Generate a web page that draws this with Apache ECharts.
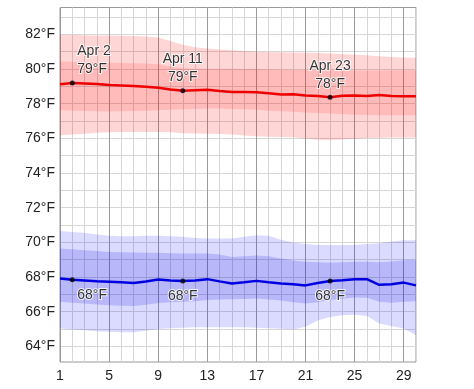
<!DOCTYPE html>
<html><head><meta charset="utf-8">
<script src="https://cdn.jsdelivr.net/npm/echarts@6/dist/echarts.min.js"></script>
<style>html,body{margin:0;padding:0;background:#fff}#c{width:474px;height:389px}</style>
</head><body><div id="c"></div>
<script>
// Days of April
const days = ['1','2','3','4','5','6','7','8','9','10','11','12','13','14','15','16','17','18','19','20','21','22','23','24','25','26','27','28','29','30'];
const xLabelDays = ['1','5','9','13','17','21','25','29'];
const yGridValues = [64,65,66,67,68,69,70,71,72,73,74,75,76,77,78,79,80,81,82,83];
const yLabelValues = [64,66,68,70,72,74,76,78,80,82];

// High temperature (°F)
const highMean = [79.12,79.20,79.17,79.13,79.08,79.05,79.02,78.98,78.92,78.82,78.75,78.78,78.80,78.73,78.68,78.67,78.66,78.60,78.53,78.55,78.48,78.45,78.37,78.46,78.48,78.44,78.50,78.44,78.43,78.43];
const highP90 = [81.98,81.97,81.95,81.94,81.93,81.92,81.90,81.88,81.82,81.62,81.40,81.25,81.18,81.12,81.08,81.04,81.00,80.98,80.97,80.96,80.94,80.92,80.90,80.87,80.83,80.79,80.74,80.70,80.67,80.65];
const highP75 = [80.44,80.42,80.40,80.38,80.37,80.35,80.34,80.32,80.28,80.15,80.05,80.02,80.02,80.02,80.01,80.00,80.00,79.98,79.96,79.95,79.94,79.93,79.93,79.92,79.92,79.92,79.92,79.93,79.93,79.93];
const highP25 = [77.62,77.60,77.58,77.56,77.55,77.56,77.58,77.60,77.62,77.65,77.68,77.70,77.72,77.72,77.70,77.68,77.65,77.60,77.56,77.53,77.50,77.46,77.43,77.40,77.37,77.35,77.34,77.33,77.33,77.33];
const highP10 = [76.18,76.22,76.27,76.32,76.36,76.37,76.37,76.37,76.37,76.35,76.30,76.28,76.27,76.25,76.22,76.17,76.12,76.10,76.08,76.06,76.00,75.92,75.90,75.94,75.98,76.02,76.04,76.05,76.05,76.05];

// Low temperature (°F)
const lowMean = [67.92,67.84,67.80,67.76,67.73,67.70,67.66,67.75,67.86,67.80,67.77,67.80,67.88,67.75,67.63,67.70,67.78,67.70,67.63,67.58,67.52,67.66,67.77,67.82,67.88,67.88,67.55,67.58,67.68,67.52];
const lowP90 = [70.65,70.60,70.55,70.45,70.38,70.36,70.36,70.38,70.38,70.36,70.32,70.25,70.22,70.22,70.22,70.32,70.41,70.38,70.15,70.00,69.90,69.85,69.85,69.85,69.85,69.90,69.95,70.05,70.12,70.13];
const lowP75 = [69.65,69.60,69.55,69.50,69.45,69.43,69.42,69.40,69.40,69.38,69.36,69.36,69.36,69.30,69.16,69.20,69.25,69.20,69.07,68.95,68.88,68.85,68.82,68.85,68.88,68.88,68.85,68.90,68.97,69.00];
const lowP25 = [66.57,66.52,66.47,66.42,66.38,66.35,66.33,66.40,66.50,66.55,66.57,66.60,66.67,66.70,66.72,66.74,66.76,66.70,66.65,66.55,66.48,66.55,66.67,66.75,66.82,66.80,66.57,66.52,66.57,66.60];
const lowP10 = [65.03,64.98,64.93,64.88,64.84,64.82,64.82,64.90,65.00,65.05,65.08,65.10,65.10,65.10,65.10,65.10,65.08,65.05,65.02,64.97,65.13,65.50,65.70,65.80,65.82,65.75,65.32,65.17,65.03,64.65];

// Annotated days
const annotDays = ['2','11','23'];
const annotNames = ['Apr 2','Apr 11','Apr 23'];

const FONT = 'Arial, "Liberation Sans", sans-serif';
const diff = (a, b) => a.map((v, i) => +(v - b[i]).toFixed(3));

function band(stack, lower, upper, color) {
  return [
    { type: 'line', stack: stack, data: lower, symbol: 'none', lineStyle: { width: 0, opacity: 0 }, silent: true, z: 1 },
    { type: 'line', stack: stack, data: diff(upper, lower), symbol: 'none', lineStyle: { width: 0, opacity: 0 }, areaStyle: { color: color, opacity: 1 }, silent: true, z: 1 }
  ];
}

function annot(mean) {
  return annotDays.map((d, i) => {
    const idx = days.indexOf(d);
    const v = mean[idx];
    const item = { value: [idx, v], name: annotNames[i] };
    if (i === 0) item.label = { align: 'left', offset: [5, 0] };
    return item;
  });
}

const labelBase = {
  show: true, fontSize: 14, fontFamily: FONT, color: '#000', lineHeight: 18,
  textBorderColor: '#fff', textBorderWidth: 2
};

const chart = echarts.init(document.getElementById('c'), null, { renderer: 'canvas' });
chart.setOption({
  animation: false,
  backgroundColor: '#fff',
  grid: { left: 60, right: 58, top: 7.5, bottom: 27, show: true, borderColor: '#999', borderWidth: 1, backgroundColor: 'transparent' },
  xAxis: [
    { type: 'category', data: days, boundaryGap: false,
      axisLine: { show: false }, axisTick: { show: false }, axisLabel: { show: false },
      splitLine: { show: true, interval: 0, lineStyle: { color: '#d6d6d6', width: 1 } } },
    { type: 'category', data: days, boundaryGap: false, position: 'bottom',
      axisLine: { show: false }, axisTick: { show: false },
      axisLabel: { interval: (i, v) => xLabelDays.indexOf(v) >= 0, fontSize: 14, fontFamily: FONT, color: '#222', margin: 7 },
      splitLine: { show: true, interval: (i, v) => xLabelDays.indexOf(v) >= 0, lineStyle: { color: '#9a9a9a', width: 1 } } }
  ],
  yAxis: {
    type: 'value', min: 63.1, max: 83.55,
    axisLine: { show: false },
    axisTick: { show: false, customValues: yGridValues },
    axisLabel: { customValues: yLabelValues, formatter: v => v + '°F', fontSize: 14, fontFamily: FONT, color: '#222', margin: 5 },
    splitLine: { show: true, lineStyle: { color: '#d6d6d6', width: 1 } }
  },
  series: [
    ...band('hOuter', highP10, highP90, 'rgba(255,0,0,0.16)'),
    ...band('hInner', highP25, highP75, 'rgba(255,0,0,0.13)'),
    ...band('lOuter', lowP10, lowP90, 'rgba(0,0,255,0.14)'),
    ...band('lInner', lowP25, lowP75, 'rgba(0,0,220,0.16)'),
    { type: 'line', data: highMean, symbol: 'none', lineStyle: { color: '#ee0000', width: 2.5 }, z: 3 },
    { type: 'line', data: lowMean, symbol: 'none', lineStyle: { color: '#0000e0', width: 2.5 }, z: 3 },
    { type: 'scatter', data: annot(highMean), symbol: 'circle', symbolSize: 5, itemStyle: { color: '#000' }, z: 5,
      label: Object.assign({}, labelBase, { position: 'top', distance: 2,
        formatter: p => p.name + '\n' + Math.round(p.value[1]) + '°F' }) },
    { type: 'scatter', data: annot(lowMean), symbol: 'circle', symbolSize: 5, itemStyle: { color: '#000' }, z: 5,
      label: Object.assign({}, labelBase, { position: 'bottom', distance: 4,
        formatter: p => Math.round(p.value[1]) + '°F' }) }
  ]
});
</script>
</body></html>
